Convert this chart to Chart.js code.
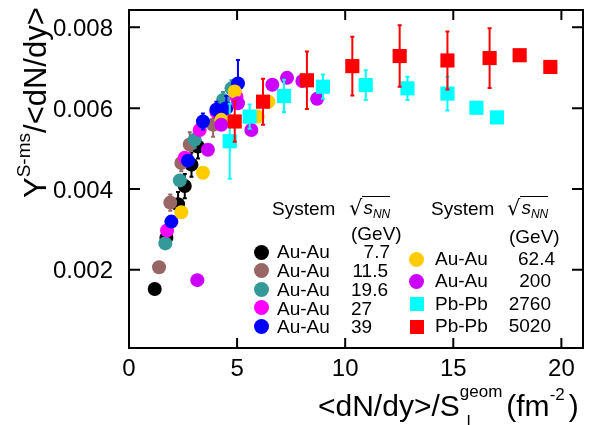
<!DOCTYPE html>
<html>
<head>
<meta charset="utf-8">
<script src="https://cdn.jsdelivr.net/npm/chart.js@4.4.0/dist/chart.umd.min.js"></script>
<style>
  body { margin: 0; background: #fff; }
  #wrap { position: relative; width: 593px; height: 425px; overflow: hidden; font-family: "Liberation Sans", Arial, sans-serif; color: #000; }
  canvas { position: absolute; left: 0; top: 0; }
  .t { position: absolute; white-space: nowrap; line-height: 18px; font-size: 19px; }
  .big { position: absolute; white-space: nowrap; line-height: 30px; font-size: 30px; }
  .up { position: relative; font-size: 18px; }
  .dot { position: absolute; width: 15px; height: 15px; border-radius: 50%; }
  .sq { position: absolute; width: 14px; height: 14px; }
  .rad { font-family: "DejaVu Sans", sans-serif; font-size: 21px; position: relative; top: 1px; }
  .snn { font-style: italic; border-top: 1.3px solid #000; padding-left: 1px; }
  .snn sub { font-size: 12px; vertical-align: baseline; position: relative; top: 4px; }
</style>
</head>
<body>
<div id="wrap">
  <canvas id="chart" width="593" height="425"></canvas>

  <!-- axis titles -->
  <div class="big" style="left:21px; top:198px; font-size:31px; transform: rotate(-90deg); transform-origin: 0 0;">Y<span class="up" style="top:-16px; font-size:19px;">S-ms</span>/&lt;dN/dy&gt;</div>
  <div class="big" style="left:318px; top:391px;">&lt;dN/dy&gt;/<span style="position:relative;">S<span style="position:absolute; left:calc(100% + 7px); top:24px; font-size:17px; line-height:17px;">l</span></span><span class="up" style="top:-19px; font-size:17px;">geom</span><span style="margin-left:4px;">(fm</span><span class="up" style="top:-16px; font-size:17px;">-2</span><span style="margin-left:4px;">)</span></div>

  <!-- legend, left column -->
  <div class="t" style="left:272px; top:200px;">System</div>
  <div class="t" style="left:349px; top:198px;"><span class="rad">√</span><span class="snn">s<sub>NN</sub></span></div>
  <div class="t" style="left:351px; top:225px;">(GeV)</div>

  <div class="dot" style="left:254px; top:245px; background:#000000;"></div>
  <div class="t" style="left:277px; top:243px;">Au-Au</div>
  <div class="t" style="right:203px; top:243px;">7.7</div>

  <div class="dot" style="left:254px; top:263px; background:#996666;"></div>
  <div class="t" style="left:277px; top:262px;">Au-Au</div>
  <div class="t" style="right:205px; top:262px;">11.5</div>

  <div class="dot" style="left:254px; top:282px; background:#339999;"></div>
  <div class="t" style="left:277px; top:281px;">Au-Au</div>
  <div class="t" style="right:205px; top:281px;">19.6</div>

  <div class="dot" style="left:254px; top:300px; background:#ff00ff;"></div>
  <div class="t" style="left:277px; top:300px;">Au-Au</div>
  <div class="t" style="left:351px; top:300px;">27</div>

  <div class="dot" style="left:254px; top:319px; background:#0000ff;"></div>
  <div class="t" style="left:277px; top:318px;">Au-Au</div>
  <div class="t" style="left:351px; top:318px;">39</div>

  <!-- legend, right column -->
  <div class="t" style="left:431px; top:200px;">System</div>
  <div class="t" style="left:507px; top:198px;"><span class="rad">√</span><span class="snn">s<sub>NN</sub></span></div>
  <div class="t" style="left:509px; top:228px;">(GeV)</div>

  <div class="dot" style="left:409px; top:252px; background:#ffcc00;"></div>
  <div class="t" style="left:435px; top:250px;">Au-Au</div>
  <div class="t" style="right:38px; top:250px;">62.4</div>

  <div class="dot" style="left:409px; top:274px; background:#cc00ff;"></div>
  <div class="t" style="left:435px; top:272px;">Au-Au</div>
  <div class="t" style="right:42px; top:272px;">200</div>

  <div class="sq" style="left:410px; top:297px; background:#00ffff;"></div>
  <div class="t" style="left:435px; top:295px;">Pb-Pb</div>
  <div class="t" style="right:42px; top:295px;">2760</div>

  <div class="sq" style="left:410px; top:320px; background:#ff0000;"></div>
  <div class="t" style="left:435px; top:317px;">Pb-Pb</div>
  <div class="t" style="right:42px; top:317px;">5020</div>
</div>

<script>
// tick labels
const xTicks = [0, 5, 10, 15, 20];
const yTicks = [0.002, 0.004, 0.006, 0.008];

// Au-Au 7.7 GeV
const auau77X = [1.19, 1.73, 2.27, 2.58, 2.89, 3.19];
const auau77Y = [0.00152, 0.00279, 0.00362, 0.00407, 0.00460, 0.00505];
const auau77Err = [0, 0.0002, 0.0003, 0.0003, 0.0003, 0.0003];

// Au-Au 11.5 GeV
const auau115X = [1.39, 1.91, 2.42, 2.81, 3.89];
const auau115Y = [0.00206, 0.00366, 0.00464, 0.00510, 0.00559];
const auau115Err = [0, 0.0002, 0.0002, 0.0003, 0.0003];

// Au-Au 19.6 GeV
const auau196X = [1.68, 2.35, 3.04, 4.35, 4.74];
const auau196Y = [0.00265, 0.00421, 0.00522, 0.00620, 0.00649];
const auau196Err = [0, 0, 0.0002, 0.0002, 0.0002];

// Au-Au 27 GeV
const auau27X = [1.76, 2.58, 3.27, 4.05, 4.97];
const auau27Y = [0.00297, 0.00477, 0.00546, 0.00590, 0.00628];

// Au-Au 39 GeV
const auau39X = [1.96, 2.73, 3.42, 4.04, 4.50, 5.04];
const auau39Y = [0.00319, 0.00470, 0.00567, 0.00596, 0.00600, 0.00661];
const auau39Err = [0, 0, 0.0002, 0.0002, 0.0003, 0.00058];

// Au-Au 62.4 GeV
const auau624X = [2.42, 3.42, 4.27, 4.89, 5.95, 6.45];
const auau624Y = [0.00342, 0.00440, 0.00571, 0.00641, 0.00579, 0.00616];

// Au-Au 200 GeV
const auau200X = [3.16, 3.65, 4.27, 5.04, 5.66, 6.63, 7.31, 8.02, 8.70];
const auau200Y = [0.00174, 0.00497, 0.00559, 0.00612, 0.00546, 0.00658, 0.00675, 0.00667, 0.00623];

// Pb-Pb 2760 GeV
const pbpb2760X = [4.66, 5.58, 7.17, 8.97, 10.95, 12.88, 14.73, 16.07, 17.02];
const pbpb2760Y = [0.00518, 0.00579, 0.00630, 0.00653, 0.00657, 0.00649, 0.00636, 0.00601, 0.00577];
const pbpb2760Err = [0.00093, 0.0003, 0.0004, 0.0003, 0.00037, 0.00029, 0.00042, 0, 0];

// Pb-Pb 5020 GeV
const pbpb5020X = [4.89, 6.20, 8.23, 10.33, 12.52, 14.73, 16.68, 18.07, 19.49];
const pbpb5020Y = [0.00567, 0.00616, 0.00669, 0.00704, 0.00729, 0.00718, 0.00724, 0.00731, 0.00702];
const pbpb5020Err = [0.0005, 0.00057, 0.00071, 0.00073, 0.00076, 0.00072, 0.00074, 0, 0];

function pts(xs, ys) {
    return xs.map((x, i) => ({x: x, y: ys[i]}));
}

function series(label, xs, ys, color, style, errs, order) {
    return {
        label: label,
        data: pts(xs, ys),
        errors: errs || null,
        backgroundColor: color,
        borderWidth: 0,
        pointStyle: style,
        pointRadius: style === 'rect' ? 10 : 7,
        pointHoverRadius: style === 'rect' ? 10 : 7,
        order: order
    };
}

// error bars drawn just before each dataset's own markers
const errorBars = {
    id: 'errorBars',
    beforeDatasetDraw(chart, args) {
        const ds = chart.data.datasets[args.index];
        if (!ds.errors) return;
        const ctx = chart.ctx;
        const xs = chart.scales.x, ys = chart.scales.y;
        ctx.save();
        ctx.strokeStyle = ds.backgroundColor;
        ctx.lineWidth = 2;
        ds.data.forEach((p, i) => {
            const e = ds.errors[i];
            if (!e) return;
            const px = xs.getPixelForValue(p.x);
            const lo = ys.getPixelForValue(p.y - e);
            const hi = ys.getPixelForValue(p.y + e);
            ctx.beginPath();
            ctx.moveTo(px, lo); ctx.lineTo(px, hi);
            ctx.moveTo(px - 2, lo); ctx.lineTo(px + 2, lo);
            ctx.moveTo(px - 2, hi); ctx.lineTo(px + 2, hi);
            ctx.stroke();
        });
        ctx.restore();
    }
};

// box frame with inward ticks on all four sides
const frameTicks = {
    id: 'frameTicks',
    afterDraw(chart) {
        const ctx = chart.ctx;
        const a = chart.chartArea;
        const xs = chart.scales.x, ys = chart.scales.y;
        ctx.save();
        ctx.strokeStyle = '#000';
        ctx.lineWidth = 2;
        ctx.strokeRect(a.left, a.top, a.right - a.left, a.bottom - a.top);
        ctx.beginPath();
        xs.ticks.forEach(t => {
            const px = xs.getPixelForValue(t.value);
            ctx.moveTo(px, a.bottom); ctx.lineTo(px, a.bottom - 10);
            ctx.moveTo(px, a.top); ctx.lineTo(px, a.top + 10);
        });
        ys.ticks.forEach(t => {
            const py = ys.getPixelForValue(t.value);
            ctx.moveTo(a.left, py); ctx.lineTo(a.left + 11, py);
            ctx.moveTo(a.right, py); ctx.lineTo(a.right - 11, py);
        });
        ctx.stroke();
        ctx.restore();
    }
};

const ctx = document.getElementById('chart').getContext('2d');

new Chart(ctx, {
    type: 'scatter',
    data: {
        datasets: [
            series('Au-Au 7.7', auau77X, auau77Y, '#000000', 'circle', auau77Err, 9),
            series('Au-Au 11.5', auau115X, auau115Y, '#996666', 'circle', auau115Err, 8),
            series('Au-Au 19.6', auau196X, auau196Y, '#339999', 'circle', auau196Err, 7),
            series('Au-Au 27', auau27X, auau27Y, '#ff00ff', 'circle', null, 6),
            series('Au-Au 39', auau39X, auau39Y, '#0000ff', 'circle', auau39Err, 5),
            series('Au-Au 62.4', auau624X, auau624Y, '#ffcc00', 'circle', null, 4),
            series('Au-Au 200', auau200X, auau200Y, '#cc00ff', 'circle', null, 3),
            series('Pb-Pb 2760', pbpb2760X, pbpb2760Y, '#00ffff', 'rect', pbpb2760Err, 2),
            series('Pb-Pb 5020', pbpb5020X, pbpb5020Y, '#ff0000', 'rect', pbpb5020Err, 1)
        ]
    },
    options: {
        responsive: false,
        animation: false,
        devicePixelRatio: 1,
        layout: { padding: { top: 7, right: 10, left: 0, bottom: 0 } },
        plugins: {
            legend: { display: false },
            tooltip: { enabled: false }
        },
        scales: {
            x: {
                type: 'linear',
                min: 0,
                max: 21,
                grid: { display: false },
                border: { display: false },
                afterBuildTicks: s => { s.ticks = xTicks.map(v => ({value: v})); },
                afterFit: s => { s.height = 77; s.paddingLeft = 0; s.paddingRight = 0; },
                ticks: {
                    color: '#000',
                    padding: -1,
                    maxRotation: 0,
                    font: { family: 'Liberation Sans', size: 24 },
                    callback: v => String(v)
                }
            },
            y: {
                type: 'linear',
                min: 0.00006,
                max: 0.00843,
                grid: { display: false },
                border: { display: false },
                afterBuildTicks: s => { s.ticks = yTicks.map(v => ({value: v})); },
                afterFit: s => { s.width = 129; s.paddingTop = 0; s.paddingBottom = 0; },
                ticks: {
                    color: '#000',
                    padding: 8,
                    labelOffset: 2,
                    font: { family: 'Liberation Sans', size: 24 },
                    callback: v => v.toFixed(3)
                }
            }
        }
    },
    plugins: [errorBars, frameTicks]
});
</script>
</body>
</html>
